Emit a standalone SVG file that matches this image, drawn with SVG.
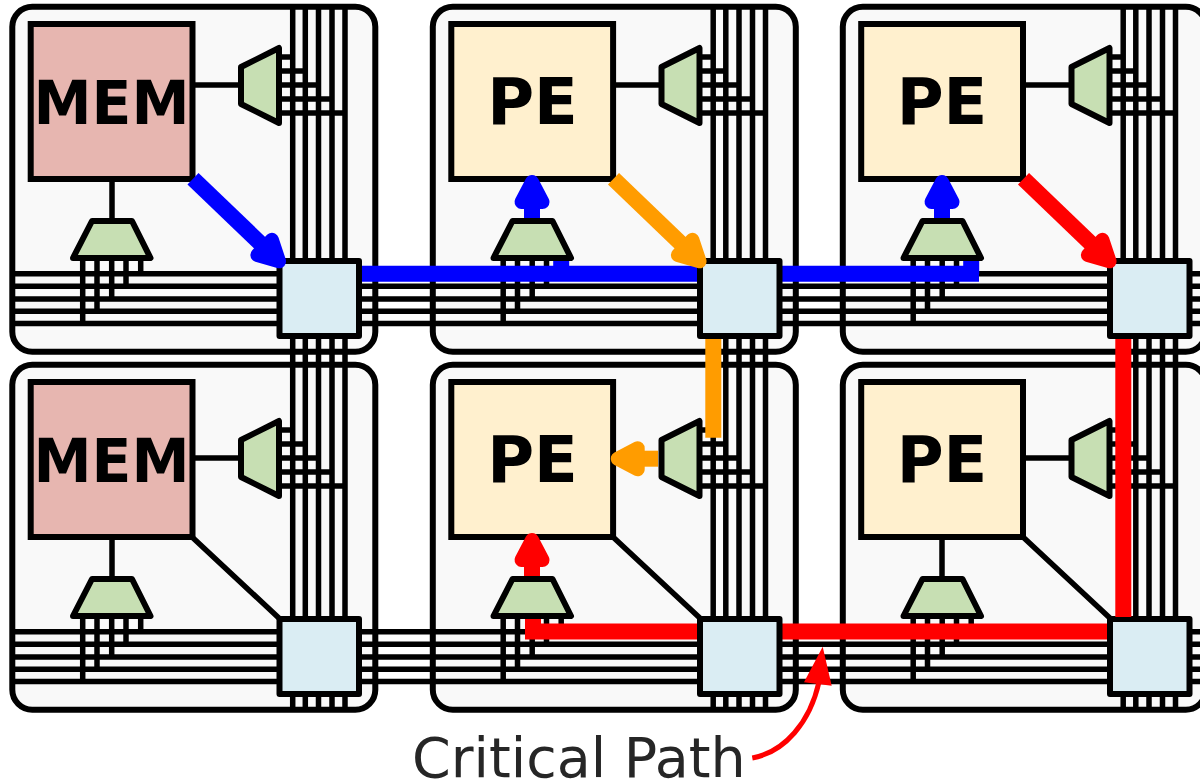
<svg xmlns="http://www.w3.org/2000/svg" width="1200" height="782" viewBox="0 0 1200 782">
<style>
.tile{fill:#f9f9f9;stroke:#000;stroke-width:6}
.mem{fill:#e7b6b0;stroke:#000;stroke-width:6}
.pe{fill:#fff0ce;stroke:#000;stroke-width:6}
.mux{fill:#c7dfb3;stroke:#000;stroke-width:6;stroke-linejoin:round}
.sw{fill:#daedf3;stroke:#000;stroke-width:6;stroke-linejoin:round}
.wire{fill:none;stroke:#000;stroke-width:5.500}
.lbl{font-family:"DejaVu Sans",sans-serif;font-weight:700;font-size:64px;text-anchor:middle;fill:#000}
.mlbl{font-size:61px}
.thick{fill:none;stroke-width:16}
.cp{font-family:"DejaVu Sans",sans-serif;font-size:55.500px;fill:#262626}
</style>
<defs>
<path id="ah" d="M20,0L0,-10.500L0,10.500Z" stroke-width="14" stroke-linejoin="round"/>
<marker id="mb" markerUnits="userSpaceOnUse" markerWidth="50" markerHeight="50" viewBox="-10 -25 50 50" refX="0" refY="0" orient="auto"><use href="#ah" fill="#00f" stroke="#00f"/></marker>
<marker id="mo" markerUnits="userSpaceOnUse" markerWidth="50" markerHeight="50" viewBox="-10 -25 50 50" refX="0" refY="0" orient="auto"><use href="#ah" fill="#ff9c00" stroke="#ff9c00"/></marker>
<marker id="mr" markerUnits="userSpaceOnUse" markerWidth="50" markerHeight="50" viewBox="-10 -25 50 50" refX="0" refY="0" orient="auto"><use href="#ah" fill="#f00" stroke="#f00"/></marker>
<rect id="tilebg" class="tile" x="12.300" y="6.700" width="363" height="345" rx="20"/>
<polygon id="muxr" class="mux" points="241,67 279,48 279,123 241,104"/>
<polygon id="muxb" class="mux" points="92,221 132,221 150.500,258 73,258"/>
<rect id="swb" class="sw" x="279.500" y="261" width="79.500" height="75"/>
<path id="vw" class="wire" d="M292.700,7V710M305.300,7V710M318.500,7V710M332,7V710M345,7V710"/>
<path id="hw" class="wire" d="M14,273.800H1200M14,286.300H1200M14,299H1200M14,311.200H1200M14,323.600H1200"/>
<path id="str" class="wire" d="M279,57H292.700M279,71H305.300M279,85H318.500M279,99H332M279,113H345"/>
<path id="stb" class="wire" d="M82.700,258V323.600M97,258V311.200M111.700,258V299M126,258V286.300M140.700,258V273.800"/>
</defs>
<g id="tile-r1c1"><use href="#tilebg"/></g>
<g id="tile-r1c2"><use href="#tilebg" x="420.500"/></g>
<g id="tile-r1c3"><use href="#tilebg" x="830.500"/></g>
<g id="tile-r2c1"><use href="#tilebg" y="358"/></g>
<g id="tile-r2c2"><use href="#tilebg" x="420.500" y="358"/></g>
<g id="tile-r2c3"><use href="#tilebg" x="830.500" y="358"/></g>
<g id="wires">
<use href="#vw"/><use href="#vw" x="420.500"/><use href="#vw" x="830.500"/>
<use href="#hw"/><use href="#hw" y="358"/>
<use href="#str"/><use href="#str" x="420.500"/><use href="#str" x="830.500"/>
<use href="#str" y="373"/><use href="#str" x="420.500" y="373"/><use href="#str" x="830.500" y="373"/>
<use href="#stb"/><use href="#stb" x="420.500"/><use href="#stb" x="830.500"/>
<use href="#stb" y="358"/><use href="#stb" x="420.500" y="358"/><use href="#stb" x="830.500" y="358"/>
<path class="wire" d="M192,85H241M112,179V221M613,85H662M1023,85H1072M192,458H241M112,537V579M192,537L281,620M613,537L702,620M1023,458H1072M942,537V579M1023,537L1112,620"/>
<path class="thick" stroke="#00f" d="M350,273.800H700M770,273.800H979M561.200,258V274M971.200,258V274"/>
<path class="thick" stroke="#f00" d="M533,617V631.500H705M775,631.500H1115"/>
</g>
<g id="mem-r1c1"><rect class="mem" x="30.700" y="24" width="161.800" height="155"/><text class="lbl mlbl" x="111.500" y="123.500" textLength="156" lengthAdjust="spacingAndGlyphs">MEM</text></g>
<g id="pe-r1c2"><rect class="pe" x="451.300" y="24" width="161.800" height="155"/><text class="lbl" x="532.500" y="123.500">PE</text></g>
<g id="pe-r1c3"><rect class="pe" x="861.200" y="24" width="161.800" height="155"/><text class="lbl" x="942" y="123.500">PE</text></g>
<g id="mem-r2c1"><rect class="mem" x="30.700" y="382" width="161.800" height="155"/><text class="lbl mlbl" x="111.500" y="481.500" textLength="156" lengthAdjust="spacingAndGlyphs">MEM</text></g>
<g id="pe-r2c2"><rect class="pe" x="451.300" y="382" width="161.800" height="155"/><text class="lbl" x="532.500" y="481.500">PE</text></g>
<g id="pe-r2c3"><rect class="pe" x="861.200" y="382" width="161.800" height="155"/><text class="lbl" x="942" y="481.500">PE</text></g>
<g id="mux-out-r1c1"><use href="#muxr"/></g><g id="mux-in-r1c1"><use href="#muxb"/></g>
<g id="mux-out-r1c2"><use href="#muxr" x="420.500"/></g><g id="mux-in-r1c2"><use href="#muxb" x="420.500"/></g>
<g id="mux-out-r1c3"><use href="#muxr" x="830.500"/></g><g id="mux-in-r1c3"><use href="#muxb" x="830.500"/></g>
<g id="mux-out-r2c1"><use href="#muxr" y="373"/></g><g id="mux-in-r2c1"><use href="#muxb" y="358"/></g>
<g id="mux-out-r2c2"><use href="#muxr" x="420.500" y="373"/></g><g id="mux-in-r2c2"><use href="#muxb" x="420.500" y="358"/></g>
<g id="mux-out-r2c3"><use href="#muxr" x="830.500" y="373"/></g><g id="mux-in-r2c3"><use href="#muxb" x="830.500" y="358"/></g>
<g id="sw-r1c1"><use href="#swb"/></g>
<g id="sw-r1c2"><use href="#swb" x="420.500"/></g>
<g id="sw-r1c3"><use href="#swb" x="830.500"/></g>
<g id="sw-r2c1"><use href="#swb" y="358"/></g>
<g id="sw-r2c2"><use href="#swb" x="420.500" y="358"/></g>
<g id="sw-r2c3"><use href="#swb" x="830.500" y="358"/></g>
<g id="connectors">
<path class="thick" stroke="#00f" marker-end="url(#mb)" d="M193,178.700L264.600,247.400"/>
<path class="thick" stroke="#ff9c00" marker-end="url(#mo)" d="M613.500,178.700L685.100,247.400"/>
<path class="thick" stroke="#f00" marker-end="url(#mr)" d="M1023.500,178.700L1095.100,247.400"/>
<path class="thick" stroke="#00f" marker-end="url(#mb)" d="M532,218V202"/>
<path class="thick" stroke="#00f" marker-end="url(#mb)" d="M942,218V202"/>
<path class="thick" stroke="#f00" marker-end="url(#mr)" d="M532,576V560"/>
<path class="thick" stroke="#ff9c00" marker-end="url(#mo)" d="M658,458.700H637.700"/>
<path class="thick" stroke="#ff9c00" d="M713.300,339V437.700"/>
<path class="thick" stroke="#f00" d="M1123.300,339V617"/>
<path fill="none" stroke="#f00" stroke-width="5" d="M752.300,758C785,752 810,722 819,682"/>
<path fill="#f00" d="M822.700,646.700L804,682.300L831.700,685.700Z"/>
</g>
<text class="cp" x="412" y="777">Critical Path</text>
</svg>
